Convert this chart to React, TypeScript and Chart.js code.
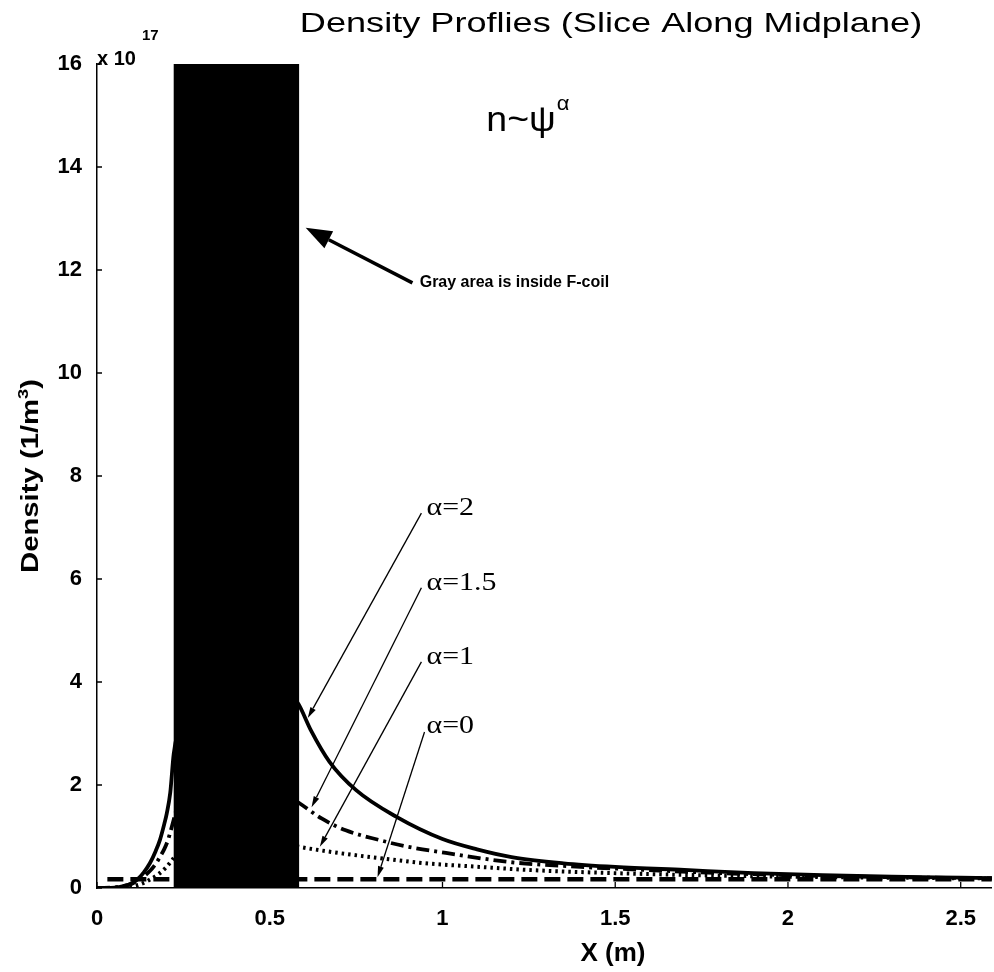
import React, { useEffect, useRef } from "react";
import { Chart, registerables } from "chart.js";

Chart.register(...registerables);

// ---- axes ----
const X_MAX = 2.59;
const Y_MAX = 16;
const xTickValues = [0, 0.5, 1, 1.5, 2, 2.5];
const xTickLabels = ["0", "0.5", "1", "1.5", "2", "2.5"];
const yTickValues = [0, 2, 4, 6, 8, 10, 12, 14, 16];
const yTickLabels = ["0", "2", "4", "6", "8", "10", "12", "14", "16"];

// ---- F-coil cross-section on the midplane (m) ----
const coilInner = 0.222;
const coilOuter = 0.585;

// ---- density profiles, units of 1e17 m^-3 (null = hidden inside the coil) ----
// alpha = 2 (solid)
const alpha2X = [0, 0.04, 0.06, 0.08, 0.1, 0.116, 0.135, 0.153, 0.17, 0.182, 0.195, 0.202, 0.212, 0.222, 0.24, 0.4, 0.578, 0.585, 0.62, 0.673, 0.75, 0.867, 1.0, 1.1, 1.2, 1.35, 1.5, 1.7, 1.9, 2.1, 2.3, 2.5, 2.6];
const alpha2Y = [0, 0.003, 0.012, 0.04, 0.09, 0.16, 0.3, 0.48, 0.72, 0.93, 1.25, 1.45, 1.85, 2.6, 3.2, null, 3.62, 3.55, 3.05, 2.45, 1.9, 1.38, 0.95, 0.75, 0.6, 0.48, 0.41, 0.35, 0.29, 0.25, 0.22, 0.2, 0.19];
// alpha = 1.5 (dash-dot)
const alpha15X = [0, 0.06, 0.1, 0.13, 0.153, 0.17, 0.182, 0.195, 0.205, 0.215, 0.225, 0.24, 0.4, 0.578, 0.585, 0.65, 0.72, 0.818, 0.9, 1.01, 1.2, 1.4, 1.59, 1.8, 2.0, 2.3, 2.6];
const alpha15Y = [0, 0.02, 0.08, 0.2, 0.33, 0.47, 0.6, 0.76, 0.92, 1.15, 1.4, 1.8, null, 1.68, 1.65, 1.35, 1.12, 0.93, 0.8, 0.68, 0.5, 0.41, 0.35, 0.29, 0.25, 0.21, 0.19];
// alpha = 1 (dotted)
const alpha1X = [0, 0.08, 0.12, 0.15, 0.18, 0.2, 0.215, 0.24, 0.4, 0.578, 0.585, 0.7, 0.818, 0.95, 1.107, 1.25, 1.396, 1.6, 1.8, 2.0, 2.3, 2.6];
const alpha1Y = [0, 0.01, 0.06, 0.15, 0.28, 0.4, 0.52, 0.75, null, 0.81, 0.8, 0.68, 0.58, 0.48, 0.41, 0.35, 0.31, 0.27, 0.24, 0.22, 0.2, 0.185];
// alpha = 0 (dashed, flat)
const alpha0X = [0.03, 2.6];
const alpha0Y = [0.17, 0.17];

// ---- annotations (data coordinates) ----
const alphaLabels = ["α=2", "α=1.5", "α=1", "α=0"];
const alphaLabelX = 0.954;
const alphaLabelY = [7.38, 5.92, 4.49, 3.15];
const alphaArrowFrom = [[0.939, 7.28], [0.939, 5.83], [0.939, 4.39], [0.948, 3.03]];
const alphaArrowTo = [[0.61, 3.3], [0.621, 1.57], [0.645, 0.8], [0.812, 0.21]];
const coilNote = "Gray area is inside F-coil";
const coilNotePos = [0.934, 11.75];
const coilArrowFrom = [0.913, 11.75];
const coilArrowTo = [0.604, 12.82];
const lawPos = [1.127, 14.89];

const TITLE = "Density Proflies (Slice Along Midplane)";
const X_TITLE = "X (m)";

const SANS = "'Liberation Sans', Arial, Helvetica, sans-serif";
const SERIF = "'Liberation Serif', 'Times New Roman', Times, serif";

const toPoints = (xs: number[], ys: (number | null)[]) => xs.map((x, i) => ({ x, y: ys[i] }));

function stretchText(
  ctx: CanvasRenderingContext2D,
  text: string,
  x: number,
  y: number,
  font: string,
  sx: number,
  align: CanvasTextAlign = "left",
  baseline: CanvasTextBaseline = "alphabetic"
) {
  ctx.save();
  ctx.translate(x, y);
  ctx.scale(sx, 1);
  ctx.font = font;
  ctx.textAlign = align;
  ctx.textBaseline = baseline;
  ctx.fillText(text, 0, 0);
  ctx.restore();
}

function arrow(
  ctx: CanvasRenderingContext2D,
  x1: number,
  y1: number,
  x2: number,
  y2: number,
  lw: number,
  headLen: number,
  headW: number
) {
  const a = Math.atan2(y2 - y1, x2 - x1);
  const bx = x2 - headLen * Math.cos(a);
  const by = y2 - headLen * Math.sin(a);
  ctx.lineWidth = lw;
  ctx.setLineDash([]);
  ctx.beginPath();
  ctx.moveTo(x1, y1);
  ctx.lineTo(bx, by);
  ctx.stroke();
  const hx = (headW / 2) * Math.sin(a);
  const hy = (headW / 2) * Math.cos(a);
  ctx.beginPath();
  ctx.moveTo(x2, y2);
  ctx.lineTo(bx + hx, by - hy);
  ctx.lineTo(bx - hx, by + hy);
  ctx.closePath();
  ctx.fill();
}

const overlayPlugin = {
  id: "coilOverlay",
  afterDatasetsDraw(chart: any) {
    const { ctx, chartArea } = chart;
    const xs = chart.scales.x;
    const ys = chart.scales.y;
    const px = (v: number) => xs.getPixelForValue(v);
    const py = (v: number) => ys.getPixelForValue(v);

    ctx.save();
    // coil block
    ctx.fillStyle = "#000";
    ctx.fillRect(px(coilInner), py(Y_MAX), px(coilOuter) - px(coilInner), py(0) - py(Y_MAX));

    // inward tick marks
    ctx.strokeStyle = "#000";
    ctx.lineWidth = 1.3;
    ctx.beginPath();
    xTickValues.forEach((v) => {
      ctx.moveTo(px(v), chartArea.bottom);
      ctx.lineTo(px(v), chartArea.bottom - 6);
    });
    yTickValues.forEach((v) => {
      ctx.moveTo(chartArea.left, py(v));
      ctx.lineTo(chartArea.left + 5, py(v));
    });
    ctx.stroke();

    // coil note with arrow
    ctx.fillStyle = "#000";
    arrow(ctx, px(coilArrowFrom[0]), py(coilArrowFrom[1]), px(coilArrowTo[0]), py(coilArrowTo[1]), 3.5, 26, 19);
    stretchText(ctx, coilNote, px(coilNotePos[0]), py(coilNotePos[1]), `bold 16px ${SANS}`, 1, "left", "middle");

    // alpha labels with leader arrows
    alphaLabels.forEach((label, i) => {
      arrow(
        ctx,
        px(alphaArrowFrom[i][0]),
        py(alphaArrowFrom[i][1]),
        px(alphaArrowTo[i][0]),
        py(alphaArrowTo[i][1]),
        1.3,
        11,
        6
      );
      stretchText(ctx, label, px(alphaLabelX), py(alphaLabelY[i]), `26px ${SERIF}`, 1.15, "left", "middle");
    });

    // scaling law
    ctx.font = `35px ${SANS}`;
    const lx = px(lawPos[0]);
    const ly = py(lawPos[1]);
    const sx = 1.07;
    const w = ctx.measureText("n~ψ").width * sx;
    stretchText(ctx, "n~ψ", lx, ly, `35px ${SANS}`, sx, "left", "middle");
    stretchText(ctx, "α", lx + w + 1, ly - 17, `20px ${SANS}`, 1.1, "left", "middle");

    // exponent label above the y axis
    stretchText(ctx, "x 10", chartArea.left, chartArea.top + 1, `bold 20px ${SANS}`, 1, "left", "alphabetic");
    stretchText(ctx, "17", chartArea.left + 45, chartArea.top - 24, `bold 15px ${SANS}`, 1, "left", "alphabetic");

    // title
    stretchText(ctx, TITLE, 611, 32, `28px ${SANS}`, 1.29, "center", "alphabetic");

    // x axis title
    stretchText(ctx, X_TITLE, 613, 961, `bold 26px ${SANS}`, 1.0, "center", "alphabetic");

    // y axis title with superscript
    ctx.save();
    ctx.translate(38, (chartArea.top + chartArea.bottom) / 2);
    ctx.rotate(-Math.PI / 2);
    const ysx = 1.22;
    ctx.scale(ysx, 1);
    const mainFont = `bold 24px ${SANS}`;
    const supFont = `bold 15px ${SANS}`;
    ctx.font = mainFont;
    const w1 = ctx.measureText("Density (1/m").width;
    const w3 = ctx.measureText(")").width;
    ctx.font = supFont;
    const w2 = ctx.measureText("3").width;
    let cx = -(w1 + w2 + w3) / 2;
    ctx.textAlign = "left";
    ctx.textBaseline = "alphabetic";
    ctx.font = mainFont;
    ctx.fillText("Density (1/m", cx, 0);
    cx += w1;
    ctx.font = supFont;
    ctx.fillText("3", cx, -10);
    cx += w2;
    ctx.font = mainFont;
    ctx.fillText(")", cx, 0);
    ctx.restore();

    ctx.restore();
  },
};

export default function App() {
  const canvasRef = useRef<HTMLCanvasElement | null>(null);

  useEffect(() => {
    const canvas = canvasRef.current;
    if (!canvas) return;
    const tickFont = { family: SANS, size: 22, weight: "bold" as const };
    const line = (data: any, dash: number[], width: number) => ({
      data,
      borderColor: "#000",
      borderWidth: width,
      borderDash: dash,
      borderCapStyle: "butt" as const,
      pointRadius: 0,
      fill: false,
      spanGaps: false,
      cubicInterpolationMode: "monotone" as const,
    });

    const chart = new Chart(canvas, {
      type: "line",
      data: {
        datasets: [
          line(toPoints(alpha0X, alpha0Y), [16, 7], 4.5),
          line(toPoints(alpha1X, alpha1Y), [2.5, 4], 4),
          line(toPoints(alpha15X, alpha15Y), [13, 5, 3, 5], 3.8),
          line(toPoints(alpha2X, alpha2Y), [], 3.8),
        ],
      },
      options: {
        animation: false,
        responsive: false,
        maintainAspectRatio: false,
        devicePixelRatio: 1,
        events: [],
        layout: { padding: { top: 64, right: 0, bottom: 0, left: 0 } },
        plugins: {
          legend: { display: false },
          tooltip: { enabled: false },
          title: { display: false },
        },
        scales: {
          x: {
            type: "linear",
            min: 0,
            max: X_MAX,
            grid: { display: false, drawTicks: false },
            border: { display: true, color: "#000", width: 1.5 },
            ticks: {
              color: "#000",
              font: tickFont,
              padding: 18,
              maxRotation: 0,
              callback: (_v: any, i: number) => xTickLabels[i],
            },
            afterBuildTicks: (s: any) => {
              s.ticks = xTickValues.map((value) => ({ value }));
            },
            afterFit: (s: any) => {
              s.height = 84;
            },
          },
          y: {
            type: "linear",
            min: 0,
            max: Y_MAX,
            grid: { display: false, drawTicks: false },
            border: { display: true, color: "#000", width: 1.5 },
            ticks: {
              color: "#000",
              font: tickFont,
              padding: 15,
              callback: (_v: any, i: number) => yTickLabels[i],
            },
            afterBuildTicks: (s: any) => {
              s.ticks = yTickValues.map((value) => ({ value }));
            },
            afterFit: (s: any) => {
              s.width = 97;
            },
          },
        },
      },
      plugins: [overlayPlugin],
    });

    return () => chart.destroy();
  }, []);

  return (
    <div style={{ position: "fixed", left: 0, top: 0, width: 994, height: 972, background: "#fff", overflow: "hidden" }}>
      <canvas ref={canvasRef} width={994} height={972} style={{ display: "block", width: 994, height: 972 }} />
    </div>
  );
}
